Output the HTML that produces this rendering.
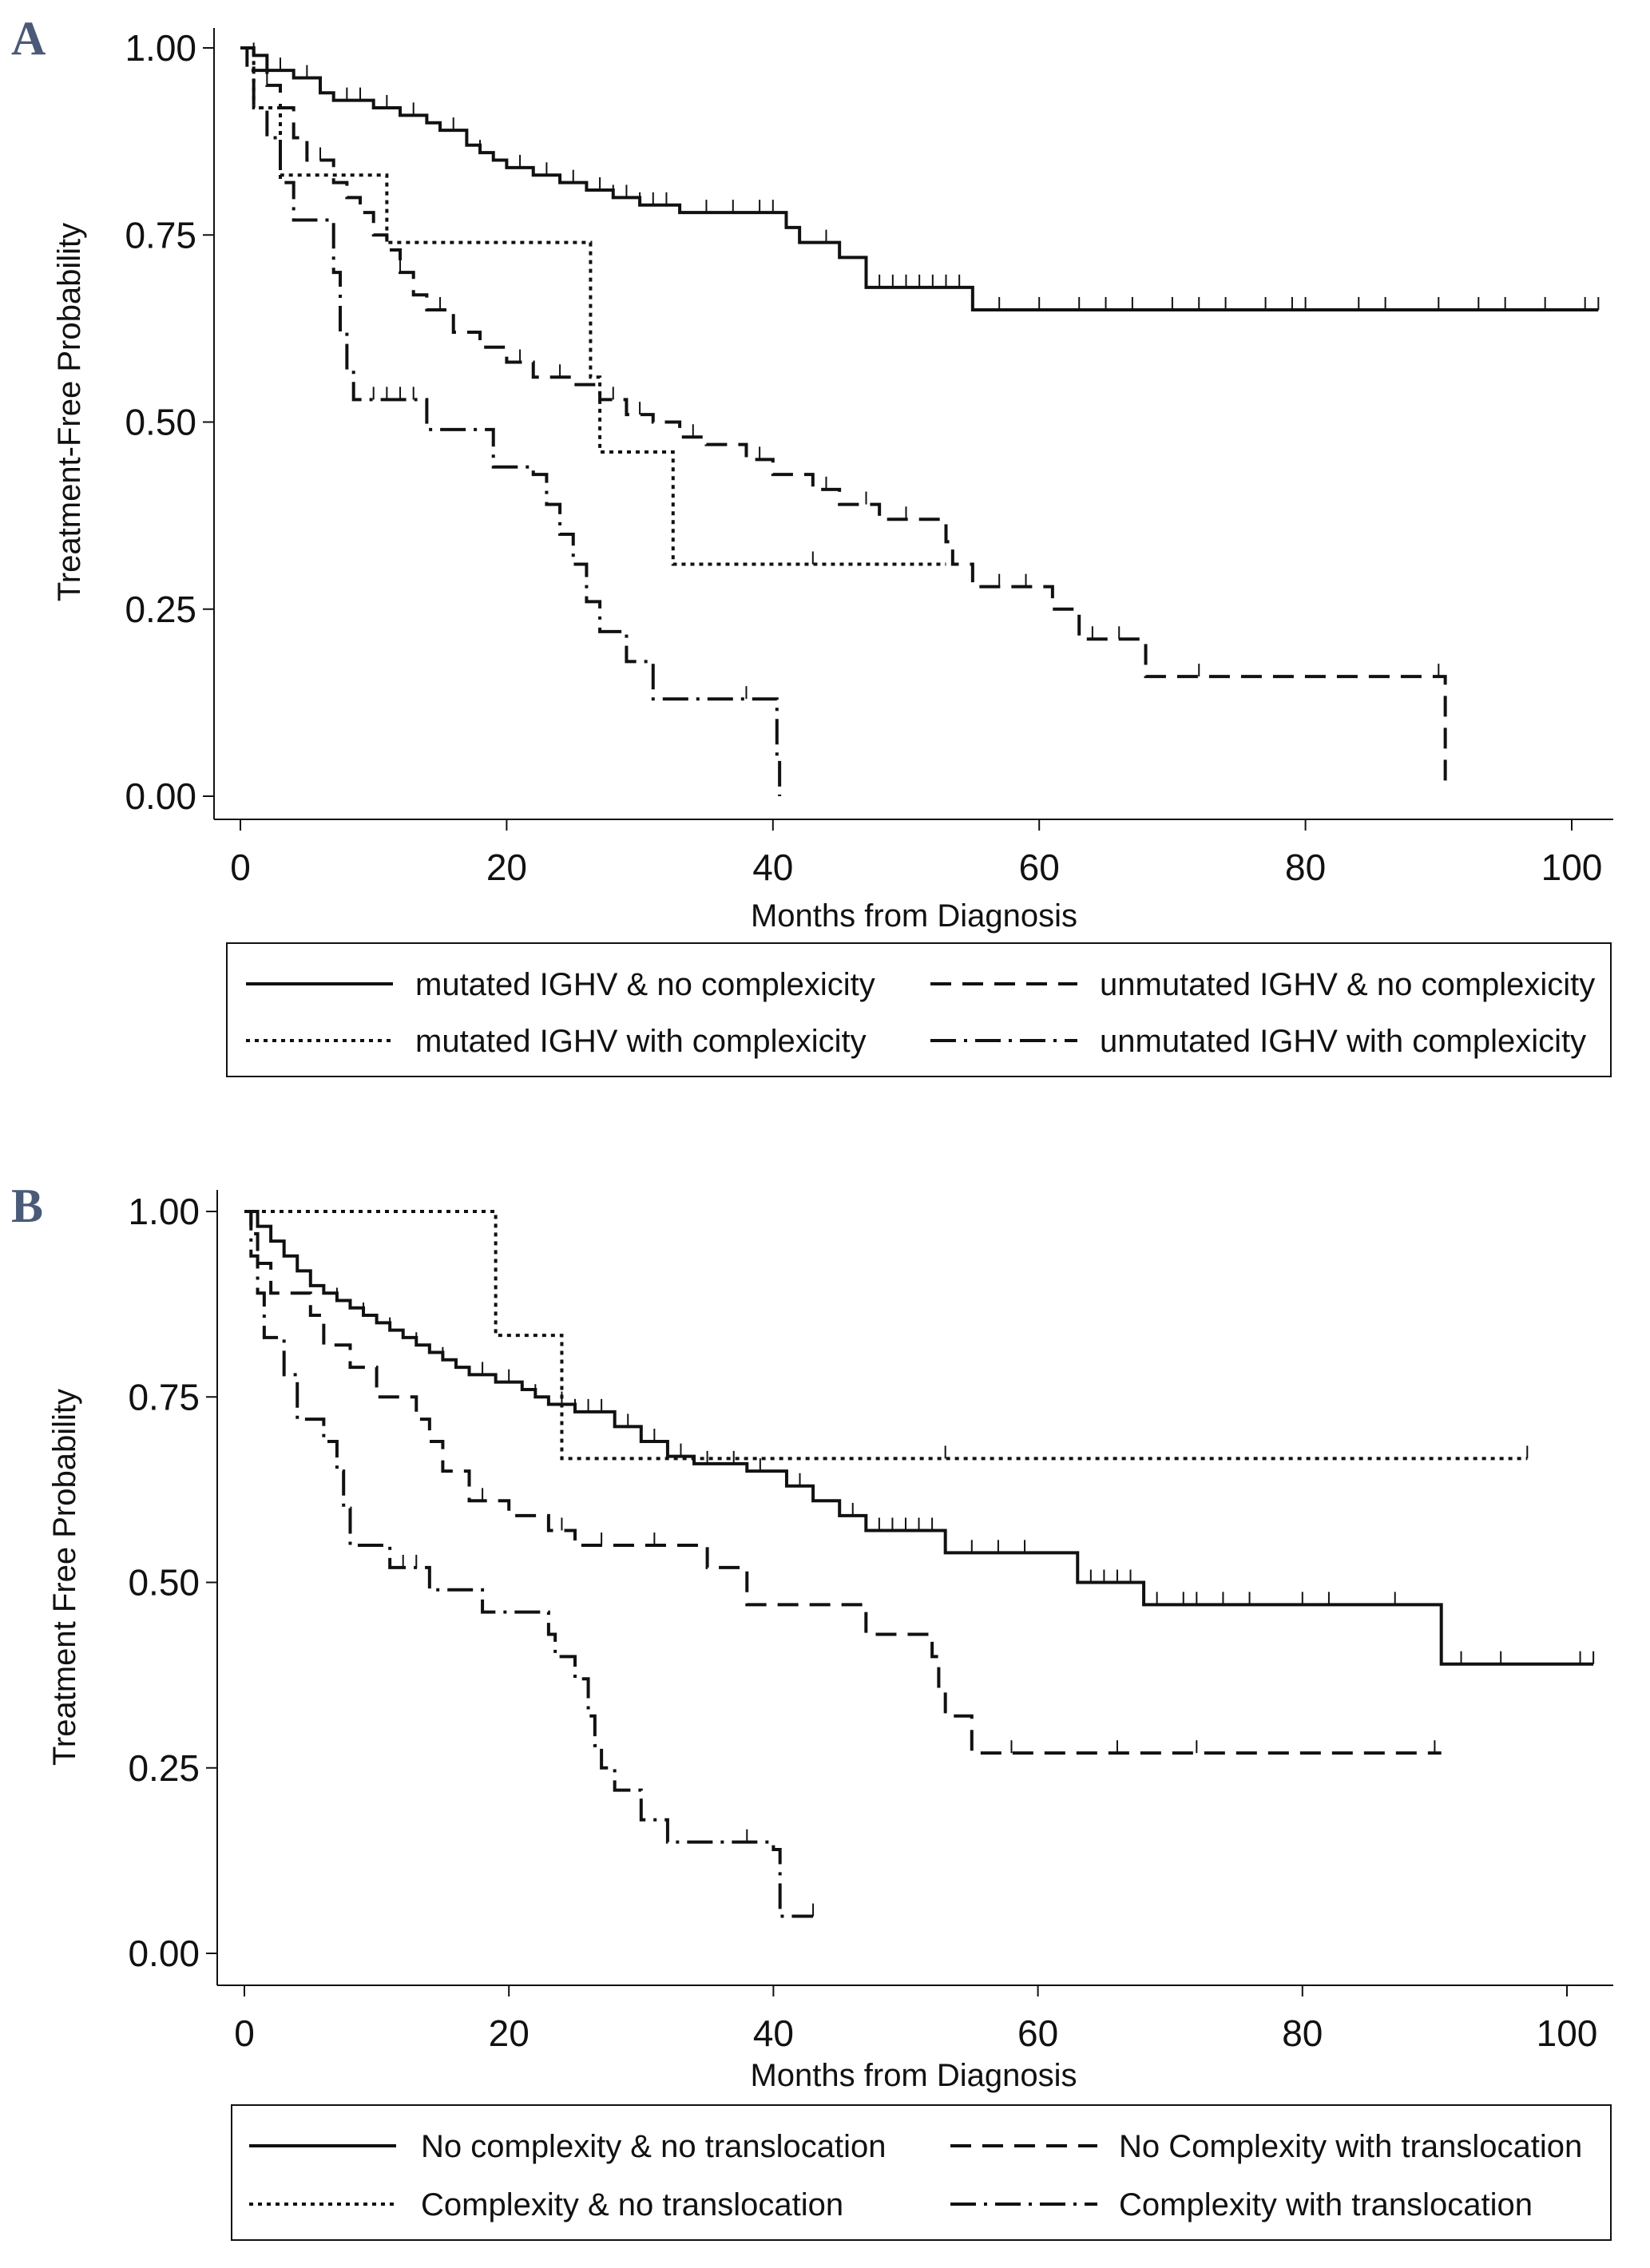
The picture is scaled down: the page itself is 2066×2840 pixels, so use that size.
<!DOCTYPE html>
<html><head><meta charset="utf-8"><style>
html,body{margin:0;padding:0;background:#fff}
svg{display:block}
text{font-family:"Liberation Sans Narrow","Liberation Sans",sans-serif;fill:#111}
</style></head><body>
<svg id="chart" width="2066" height="2840" viewBox="0 0 2066 2840" xmlns="http://www.w3.org/2000/svg">
<rect width="2066" height="2840" fill="#fff"/>
<text x="14" y="68" font-size="60" font-weight="bold" style="fill:#4a5a78;font-family:'Liberation Serif',serif">A</text>
<text x="14" y="1530" font-size="60" font-weight="bold" style="fill:#4a5a78;font-family:'Liberation Serif',serif">B</text>
<g id="panelA"></g>
<g id="panelB"></g>
</svg>
<script>
const xTicks=[0,20,40,60,80,100];
const yTicks=[0,0.25,0.5,0.75,1];
const yTickLabels=["0.00","0.25","0.50","0.75","1.00"];

// Panel A series: [months, survival]
const aMutNo=[[0,1],[1,0.99],[2,0.97],[4,0.96],[6,0.94],[7,0.93],[10,0.92],[12,0.91],[14,0.90],[15,0.89],[17,0.87],[18,0.86],[19,0.85],[20,0.84],[22,0.83],[24,0.82],[26,0.81],[28,0.80],[30,0.79],[33,0.78],[41,0.76],[42,0.74],[45,0.72],[47,0.68],[55,0.65],[102,0.65]];
const aMutNoCens=[1,3,5,8,9,11,13,16,18,21,23,25,27,28,29,30,31,32,35,37,39,40,44,48,49,50,51,52,53,54,57,60,63,65,67,70,72,74,77,79,80,84,86,90,93,95,98,101,102];
const aUnmutNo=[[0,1],[1,0.97],[2,0.95],[3,0.92],[4,0.88],[5,0.85],[7,0.82],[8,0.80],[9,0.78],[10,0.75],[11,0.73],[12,0.70],[13,0.67],[14,0.65],[16,0.62],[18,0.60],[20,0.58],[22,0.56],[25,0.55],[27,0.53],[29,0.51],[31,0.50],[33,0.48],[35,0.47],[38,0.45],[40,0.43],[43,0.41],[45,0.39],[48,0.37],[53,0.34],[53.5,0.31],[55,0.28],[60,0.28],[61,0.25],[63,0.21],[68,0.16],[90.5,0.16],[90.5,0.01]];
const aUnmutNoCens=[2,6,12,15,21,24,28,30,34,39,44,47,50,57,59,64,66,72,90];
const aMutCx=[[0,1],[1,0.92],[3,0.83],[11,0.74],[26,0.74],[26.3,0.56],[27,0.46],[32.5,0.31],[53,0.31]];
const aMutCxCens=[43];
const aUnmutCx=[[0,1],[0.5,0.97],[1,0.92],[2,0.88],[3,0.82],[4,0.77],[7,0.70],[7.5,0.62],[8,0.57],[8.5,0.53],[14,0.49],[19,0.44],[22,0.43],[23,0.39],[24,0.35],[25,0.31],[26,0.26],[27,0.22],[29,0.18],[31,0.13],[40,0.13],[40.3,0.05],[40.5,0.0]];
const aUnmutCxCens=[10,11,12,13,38];

// Panel B series
const bNoNo=[[0,1],[1,0.98],[2,0.96],[3,0.94],[4,0.92],[5,0.90],[6,0.89],[7,0.88],[8,0.87],[9,0.86],[10,0.85],[11,0.84],[12,0.83],[13,0.82],[14,0.81],[15,0.80],[16,0.79],[17,0.78],[19,0.77],[21,0.76],[22,0.75],[23,0.74],[25,0.73],[28,0.71],[30,0.69],[32,0.67],[34,0.66],[38,0.65],[41,0.63],[43,0.61],[45,0.59],[47,0.57],[51,0.57],[53,0.54],[58,0.54],[63,0.50],[68,0.47],[90.5,0.47],[90.5,0.39],[102,0.39]];
const bNoNoCens=[1,3,5,7,9,11,13,15,18,20,22,24,25,26,27,28,29,30,31,33,35,37,39,42,46,48,49,50,51,52,55,57,59,64,65,66,67,69,71,72,74,76,80,82,87,92,95,101,102];
const bNoTr=[[0,1],[0.5,0.97],[1,0.93],[2,0.89],[5,0.86],[6,0.82],[8,0.79],[10,0.75],[13,0.72],[14,0.69],[15,0.65],[17,0.61],[20,0.59],[23,0.57],[25,0.55],[35,0.52],[38,0.47],[47,0.43],[52,0.40],[52.5,0.36],[53,0.32],[55,0.27],[90.5,0.27]];
const bNoTrCens=[18,24,27,31,58,66,72,90];
const bCxNo=[[0,1],[19,0.833],[24,0.667],[97,0.667]];
const bCxNoCens=[53,97];
const bCxTr=[[0,1],[0.5,0.94],[1,0.89],[1.5,0.83],[3,0.78],[4,0.72],[6,0.69],[7,0.65],[7.5,0.60],[8,0.55],[11,0.52],[14,0.49],[18,0.46],[23,0.43],[23.5,0.40],[25,0.37],[26,0.32],[26.5,0.28],[27,0.25],[28,0.22],[30,0.18],[32,0.15],[40,0.14],[40.5,0.05],[43,0.05]];
const bCxTrCens=[12,13,38,43];

const NS="http://www.w3.org/2000/svg";
function el(tag,attrs,parent){const e=document.createElementNS(NS,tag);for(const k in attrs)e.setAttribute(k,attrs[k]);parent.appendChild(e);return e;}
const STY={solid:"none",dash:"26 14",dot:"5 6",dashdot:"32 10 4 10"};

function panel(g,cfg){
  const sx=v=>cfg.x0+(cfg.x100-cfg.x0)*v/100;
  const sy=v=>cfg.y0+(cfg.y1-cfg.y0)*v;
  let a=el("line",{x1:cfg.axX,y1:cfg.axTop,x2:cfg.axX,y2:cfg.axY,stroke:"#111","stroke-width":2},g);
  
  a=el("line",{x1:cfg.axX,y1:cfg.axY,x2:cfg.axRight,y2:cfg.axY,stroke:"#111","stroke-width":2},g);
  
  yTicks.forEach((v,i)=>{
    el("line",{x1:cfg.axX-14,y1:sy(v),x2:cfg.axX,y2:sy(v),stroke:"#111","stroke-width":2},g);
    const t=el("text",{x:cfg.axX-22,y:sy(v)+16,"font-size":46,"text-anchor":"end"},g);
    
    t.textContent=yTickLabels[i];
  });
  xTicks.forEach(v=>{
    el("line",{x1:sx(v),y1:cfg.axY,x2:sx(v),y2:cfg.axY+14,stroke:"#111","stroke-width":2},g);
    const t=el("text",{x:sx(v),y:cfg.axY+76,"font-size":46,"text-anchor":"middle"},g);
    
    t.textContent=v;
  });
  let t=el("text",{x:(cfg.x0+cfg.x100)/2+10,y:cfg.xTitleY,"font-size":40,"text-anchor":"middle"},g);
  
  t.textContent="Months from Diagnosis";
  t=el("text",{x:0,y:0,"font-size":40,"text-anchor":"middle",transform:`translate(${cfg.yTitleX},${cfg.yTitleY}) rotate(-90)`},g);
  
  t.textContent=cfg.yTitle;
  cfg.series.forEach(s=>{
    let d="";
    s.pts.forEach((p,i)=>{
      if(i===0)d+=`M${sx(p[0])},${sy(p[1])}`;
      else d+=`H${sx(p[0])}V${sy(p[1])}`;
    });
    const path=el("path",{d:d,fill:"none",stroke:"#111","stroke-width":4,"stroke-dasharray":STY[s.style]},g);
    
    const survAt=tm=>{let v=s.pts[0][1];for(const p of s.pts){if(p[0]<=tm)v=p[1];}return v;};
    s.cens.forEach(c=>{
      const v=survAt(c);
      const m=el("line",{x1:sx(c),y1:sy(v),x2:sx(c),y2:sy(v)-16,stroke:"#111","stroke-width":2},g);
      
    });
  });
  const L=cfg.legend;
  const box=el("rect",{x:L.x,y:L.y,width:L.w,height:L.h,fill:"none",stroke:"#111","stroke-width":2},g);
  
  L.items.forEach(it=>{
    const ln=el("line",{x1:it.lx,y1:it.y,x2:it.lx+184,y2:it.y,stroke:"#111","stroke-width":4,"stroke-dasharray":STY[it.style]},g);
    
    const tx=el("text",{x:it.tx,y:it.y+14,"font-size":40},g);
    
    tx.textContent=it.label;
  });
}

panel(document.getElementById("panelA"),{
  x0:301,x100:1968,y1:60,y0:997,axX:268,axY:1026,axTop:35,axRight:2020,
  xTitleY:1160,yTitleX:100,yTitleY:516,yTitle:"Treatment-Free Probability",
  series:[
    {name:"mutated-no-complexity-line",pts:aMutNo,cens:aMutNoCens,style:"solid"},
    {name:"unmutated-no-complexity-line",pts:aUnmutNo,cens:aUnmutNoCens,style:"dash"},
    {name:"mutated-complexity-line",pts:aMutCx,cens:aMutCxCens,style:"dot"},
    {name:"unmutated-complexity-line",pts:aUnmutCx,cens:aUnmutCxCens,style:"dashdot"}],
  legend:{x:284,y:1181,w:1733,h:167,items:[
    {lx:308,tx:520,y:1232,style:"solid",label:"mutated IGHV & no complexicity"},
    {lx:1165,tx:1377,y:1232,style:"dash",label:"unmutated IGHV & no complexicity"},
    {lx:308,tx:520,y:1303,style:"dot",label:"mutated IGHV with complexicity"},
    {lx:1165,tx:1377,y:1303,style:"dashdot",label:"unmutated IGHV with complexicity"}]}
});
panel(document.getElementById("panelB"),{
  x0:306,x100:1962,y1:1517,y0:2446,axX:272,axY:2486,axTop:1490,axRight:2020,
  xTitleY:2612,yTitleX:94,yTitleY:1975,yTitle:"Treatment Free Probability",
  series:[
    {name:"no-complexity-no-translocation-line",pts:bNoNo,cens:bNoNoCens,style:"solid"},
    {name:"no-complexity-translocation-line",pts:bNoTr,cens:bNoTrCens,style:"dash"},
    {name:"complexity-no-translocation-line",pts:bCxNo,cens:bCxNoCens,style:"dot"},
    {name:"complexity-translocation-line",pts:bCxTr,cens:bCxTrCens,style:"dashdot"}],
  legend:{x:290,y:2636,w:1727,h:169,items:[
    {lx:312,tx:527,y:2687,style:"solid",label:"No complexity & no translocation"},
    {lx:1190,tx:1401,y:2687,style:"dash",label:"No Complexity with translocation"},
    {lx:312,tx:527,y:2760,style:"dot",label:"Complexity & no translocation"},
    {lx:1190,tx:1401,y:2760,style:"dashdot",label:"Complexity with translocation"}]}
});
</script>
</body></html>
